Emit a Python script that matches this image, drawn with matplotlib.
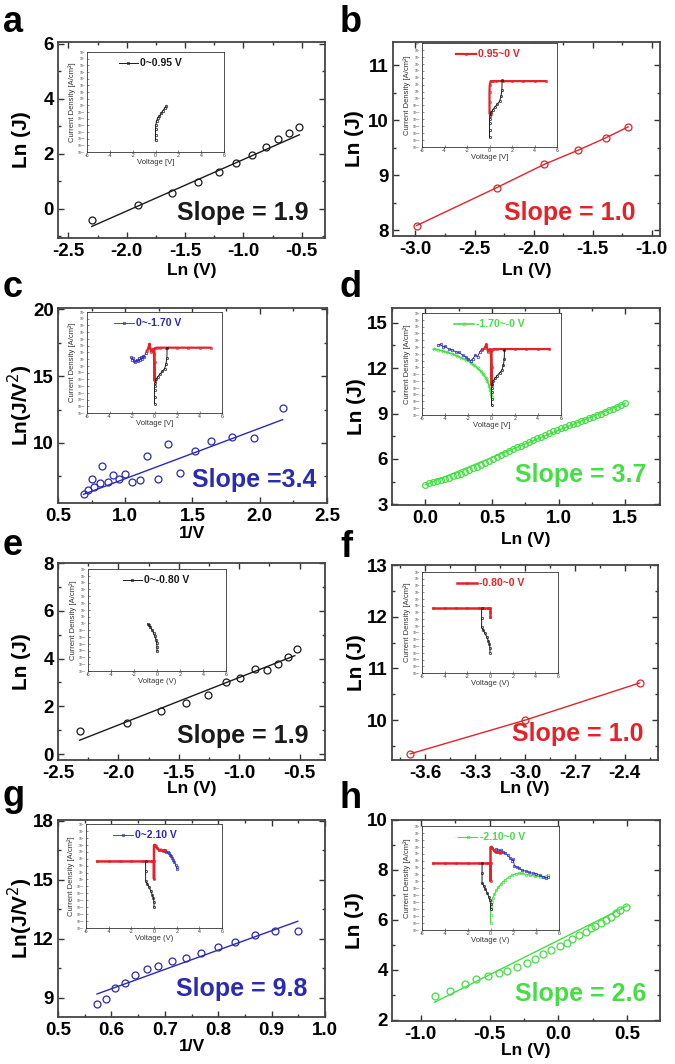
import numpy as np
import matplotlib
matplotlib.use('Agg')
import matplotlib.pyplot as plt
from matplotlib.ticker import AutoMinorLocator

plt.rcParams['font.family'] = ['Liberation Sans', 'DejaVu Sans']

BLACK = '#1a1a1a'
RED = '#e3222a'
BLUE = '#2a2ab2'
GREEN = '#45de45'

# ---- main panel data ----
a_lnV = [-2.30, -1.90, -1.61, -1.39, -1.21, -1.06, -0.93, -0.81, -0.70, -0.61, -0.52]
a_lnJ = [-0.40, 0.15, 0.59, 0.99, 1.32, 1.66, 1.94, 2.24, 2.53, 2.75, 2.99]
a_fit_x = [-2.30, -0.52]
a_fit_y = [-0.64, 2.69]

b_lnV = [-2.99, -2.31, -1.91, -1.62, -1.39, -1.20]
b_lnJ = [8.09, 8.78, 9.20, 9.46, 9.68, 9.88]

c_invV = [0.69, 0.72, 0.75, 0.77, 0.81, 0.83, 0.87, 0.91, 0.95, 1.00, 1.05,
          1.11, 1.16, 1.24, 1.32, 1.41, 1.52, 1.64, 1.79, 1.96, 2.17]
c_lnJV2 = [6.20, 6.45, 7.27, 6.70, 7.00, 8.26, 7.10, 7.57, 7.27, 7.64, 7.07,
           7.20, 9.00, 7.27, 9.95, 7.77, 9.38, 10.12, 10.42, 10.37, 12.60]
c_fit_x = [0.69, 2.17]
c_fit_y = [6.15, 11.74]

d_lnV = [0.00, 0.03, 0.06, 0.09, 0.12, 0.15, 0.18, 0.21, 0.24, 0.27, 0.30, 0.33, 0.36,
         0.39, 0.42, 0.45, 0.48, 0.51, 0.54, 0.57, 0.60, 0.63, 0.66, 0.69, 0.72, 0.75,
         0.78, 0.81, 0.84, 0.87, 0.90, 0.93, 0.96, 0.99, 1.02, 1.05, 1.08, 1.11, 1.14,
         1.17, 1.20, 1.23, 1.26, 1.29, 1.32, 1.35, 1.38, 1.41, 1.44, 1.47, 1.50]
d_lnJ = [4.30, 4.38, 4.45, 4.52, 4.60, 4.68, 4.76, 4.85, 4.93, 5.03, 5.14, 5.26, 5.38,
         5.50, 5.62, 5.75, 5.88, 6.00, 6.13, 6.26, 6.38, 6.51, 6.64, 6.76, 6.88, 7.00,
         7.12, 7.24, 7.36, 7.48, 7.60, 7.72, 7.83, 7.94, 8.04, 8.13, 8.22, 8.31, 8.40,
         8.50, 8.60, 8.69, 8.79, 8.89, 8.99, 9.10, 9.21, 9.33, 9.45, 9.58, 9.72]
d_fit_x = [0.00, 1.50]
d_fit_y = [4.30, 9.70]

e_lnV = [-2.32, -1.93, -1.65, -1.44, -1.26, -1.11, -0.99, -0.87, -0.77, -0.68, -0.60, -0.52]
e_lnJ = [0.95, 1.31, 1.80, 2.15, 2.49, 3.03, 3.17, 3.54, 3.51, 3.78, 4.05, 4.39]
e_fit_x = [-2.32, -0.54]
e_fit_y = [0.58, 4.12]

f_lnV = [-3.69, -3.00, -2.31]
f_lnJ = [9.35, 10.00, 10.72]

g_invV = [0.573, 0.589, 0.606, 0.626, 0.645, 0.666, 0.688, 0.713, 0.740, 0.768,
          0.800, 0.832, 0.869, 0.907, 0.949]
g_lnJV2 = [8.71, 8.93, 9.51, 9.78, 10.15, 10.46, 10.61, 10.87, 11.04, 11.31,
           11.60, 11.85, 12.22, 12.40, 12.40]
g_fit_x = [0.573, 0.949]
g_fit_y = [9.20, 12.90]

h_lnV = [-0.90, -0.79, -0.68, -0.60, -0.51, -0.43, -0.37, -0.30, -0.23, -0.17, -0.11,
         -0.05, 0.01, 0.06, 0.10, 0.15, 0.20, 0.24, 0.27, 0.31, 0.35, 0.38, 0.42, 0.45, 0.49]
h_lnJ = [2.96, 3.16, 3.43, 3.63, 3.76, 3.87, 3.97, 4.13, 4.27, 4.44, 4.63, 4.80, 4.97,
         5.07, 5.23, 5.40, 5.53, 5.67, 5.77, 5.87, 6.00, 6.13, 6.27, 6.40, 6.53]
h_fit_x = [-0.90, 0.50]
h_fit_y = [2.71, 6.56]

# ---- inset I-V data: voltage [V] and log10 of current density ----
blk_a_V = [0, 0, 0, 0.02, 0.1, 0.2, 0.35, 0.5, 0.65, 0.8, 0.95]
blk_a_J = [-5.25, -4.5, -3.6, -3.0, -2.3, -1.9, -1.6, -1.2, -0.8, -0.45, -0.1]

blk_pos_V = [0, 0, 0, 0, 0.05, 0.15, 0.3, 0.5, 0.7, 0.9, 1.02, 1.1, 1.12]
blk_pos_J = [-5.6, -4.6, -3.6, -3.0, -2.5, -2.0, -1.6, -1.2, -0.8, -0.4, 0.3, 1.2, 2.6]

red_b_V = [5.0, 4.0, 3.0, 2.0, 1.2, 0.6, 0.3, 0.1, 0.02, 0.0, 0.0, 0.0, 0.12]
red_b_J = [2.5, 2.5, 2.5, 2.5, 2.5, 2.5, 2.5, 2.5, 1.9, 1.0, -0.5, -2.2, -2.2]

red_c_V = [5.0, 4.0, 3.0, 2.0, 1.0, 0.5, 0.2, 0.0, 0.0, 0.0, -0.05, -0.15, -0.3, -0.45, -0.55, -0.7]
red_c_J = [2.7, 2.7, 2.7, 2.7, 2.7, 2.7, 2.7, 2.6, 0.5, -2.2, 1.8, 2.5, 2.1, 3.3, 2.6, 2.2]

blu_c_V = [-2.1, -2.0, -1.9, -1.8, -1.7, -1.6, -1.5, -1.4, -1.3, -1.2, -1.1, -1.0, -0.9, -0.8]
blu_c_J = [1.3, 0.9, 1.1, 0.7, 0.6, 0.9, 0.7, 1.1, 0.8, 1.3, 1.0, 1.5, 1.3, 1.9]

red_d_V = [5.0, 4.0, 3.0, 2.0, 1.0, 0.5, 0.2, 0.0, 0.0, 0.0, -0.05, -0.15, -0.3, -0.45, -0.6, -0.8]
red_d_J = [2.7, 2.7, 2.7, 2.7, 2.7, 2.7, 2.7, 2.6, 0.0, -2.6, 2.4, 2.7, 2.3, 3.4, 2.8, 2.6]

blu_d_V = [-4.6, -4.4, -4.2, -4.0, -3.7, -3.4, -3.1, -2.8, -2.5, -2.2, -2.0, -1.8,
           -1.6, -1.4, -1.2, -1.0, -0.85]
blu_d_J = [3.3, 3.4, 3.0, 3.1, 2.7, 2.6, 2.3, 2.2, 1.8, 1.5, 1.2, 1.0, 1.3, 1.8, 1.6, 2.3, 2.7]

grn_d_V = [-5.0, -4.6, -4.2, -3.8, -3.4, -3.0, -2.6, -2.2, -1.8, -1.5, -1.2, -0.9,
           -0.7, -0.5, -0.35, -0.2, -0.1, -0.03, 0.0]
grn_d_J = [2.7, 2.6, 2.4, 2.2, 2.0, 1.7, 1.4, 1.1, 0.7, 0.3, -0.1, -0.6,
           -1.0, -1.5, -2.0, -2.7, -3.3, -3.9, -4.3]

blk_e_V = [0, 0, -0.02, -0.08, -0.18, -0.3, -0.45, -0.6, -0.72, -0.8]
blk_e_J = [-4.1, -3.4, -2.9, -2.4, -1.9, -1.4, -0.9, -0.5, -0.2, -0.1]

red_f_V = [-5.0, -4.0, -3.0, -2.0, -1.0, -0.5, -0.2, 0.0, 0.0, 0.0]
red_f_J = [2.6, 2.6, 2.6, 2.6, 2.6, 2.6, 2.6, 2.6, 2.0, 1.3]

blk_neg_V = [-0.74, -0.74, -0.74, -0.6, -0.45, -0.3, -0.15, -0.05, 0.0, 0.0]
blk_neg_J = [2.6, 1.2, -0.2, -0.6, -1.1, -1.6, -2.2, -2.7, -3.3, -4.0]

red_g_V = [-5.0, -4.0, -3.0, -2.0, -1.0, -0.3, 0.0, 0.0, 0.0, 0.05, 0.15, 0.3, 0.45, 0.6, 0.8, 1.0]
red_g_J = [2.6, 2.6, 2.6, 2.6, 2.6, 2.6, 2.6, 0.1, 4.9, 5.0, 4.8, 4.5, 4.2, 4.3, 4.1, 4.2]

blu_g_V = [0.9, 1.0, 1.1, 1.2, 1.3, 1.4, 1.5, 1.6, 1.7, 1.8, 1.9, 2.0, 2.05]
blu_g_J = [4.2, 4.1, 4.0, 3.9, 3.8, 3.6, 3.4, 3.1, 2.8, 2.5, 2.1, 1.8, 1.5]

blu_h_V = [0.5, 0.7, 0.9, 1.1, 1.3, 1.5, 1.7, 1.9, 2.0, 2.1, 2.3, 2.5, 2.8, 3.1,
           3.4, 3.7, 4.0, 4.3, 4.6, 4.9, 5.0]
blu_h_J = [4.7, 4.5, 4.5, 4.3, 4.1, 3.8, 3.4, 3.0, 3.2, 2.2, 2.1, 1.9, 1.6, 1.5,
           1.3, 1.2, 1.1, 0.9, 0.7, 0.5, 0.6]

grn_h_V = [0.0, 0.0, 0.02, 0.05, 0.1, 0.2, 0.35, 0.5, 0.7, 0.9, 1.1, 1.3, 1.6, 1.9,
           2.2, 2.5, 2.8, 3.1, 3.5, 3.9, 4.3, 4.7, 5.0]
grn_h_J = [-6.0, -4.8, -4.0, -3.5, -3.0, -2.4, -1.8, -1.3, -0.8, -0.4, -0.05, 0.25,
           0.6, 0.9, 1.1, 1.2, 1.15, 1.0, 0.9, 0.75, 0.7, 0.7, 0.9]

W, H = 675, 1064
fig = plt.figure(figsize=(W / 100, H / 100), dpi=100)


def px_axes(l, t, r, b):
    return fig.add_axes([l / W, 1 - b / H, (r - l) / W, (b - t) / H])


def bold_ticks(ax):
    for lab in ax.get_xticklabels() + ax.get_yticklabels():
        lab.set_fontweight('bold')


def main_panel(rect, x, y, fx, fy, color, xlim, ylim, xticks, yticks,
               xlabel, ylabel, slope, spos, xlab_px, ylab_px, ms=5.0):
    ax = px_axes(*rect)
    ax.plot(fx, fy, color=color, lw=1.0, zorder=2)
    ax.plot(x, y, 'o', mfc='none', mec=color, ms=ms, mew=0.9, zorder=3)
    ax.set_xlim(*xlim)
    ax.set_ylim(*ylim)
    ax.set_xticks(xticks)
    ax.set_xticklabels(['{:.1f}'.format(v) for v in xticks])
    ax.set_yticks(yticks)
    ax.set_yticklabels([str(v) for v in yticks])
    ax.xaxis.set_minor_locator(AutoMinorLocator(2))
    ax.yaxis.set_minor_locator(AutoMinorLocator(2))
    ax.tick_params(which='both', direction='in', top=True, right=True,
                   labelsize=13.5, width=1.0, colors='#333333', labelcolor='black')
    ax.tick_params(which='major', length=4, pad=3)
    ax.tick_params(which='minor', length=2)
    ax.tick_params(axis='x', pad=3.6)
    for s in ax.spines.values():
        s.set_color('#444444')
        s.set_linewidth(1.3)
    bold_ticks(ax)
    hpx = rect[3] - rect[1]
    wpx = rect[2] - rect[0]
    # x label placed by its baseline, y label by its centre
    ax.set_xlabel(xlabel, fontsize=12.5, fontweight='bold', va='baseline')
    ax.xaxis.set_label_coords(0.5, -(xlab_px - rect[3]) / hpx)
    ax.set_ylabel(ylabel, fontsize=15, fontweight='bold', va='center')
    ax.yaxis.set_label_coords((ylab_px - rect[0]) / wpx, 0.5)
    ax.text(spos[0], spos[1], slope, transform=ax.transAxes, ha='right', va='center',
            fontsize=18, fontweight='bold', color=color)
    return ax


def inset(rect, curves, leg_label, leg_x, xlabel):
    ax = px_axes(*rect)
    ax.set_yscale('log')
    handles = []
    for V, J, c, ms, lw in curves:
        ln, = ax.plot(V, 10.0 ** np.array(J), color=c, marker='o', mfc='none',
                      ms=ms, mew=0.5, lw=lw)
        handles.append(ln)
    ax.set_xlim(-6, 6)
    ax.set_ylim(1e-7, 1e8)
    ax.set_xticks([-6, -4, -2, 0, 2, 4, 6])
    ax.set_xticklabels(['-6', '-4', '-2', '0', '2', '4', '6'])
    ax.set_yticks([10.0 ** k for k in range(-7, 9)])
    ax.set_yticklabels(['10$^{%d}$' % k for k in range(-7, 9)])
    ax.minorticks_off()
    ax.tick_params(direction='in', length=1.5, width=0.4, pad=1, labelsize=3.8,
                   colors='#333333', labelcolor='#333333')
    ax.tick_params(axis='y', labelsize=2.3)
    for s in ax.spines.values():
        s.set_linewidth(0.6)
        s.set_color('#333333')
    ax.set_xlabel(xlabel, fontsize=5.5, fontweight='normal', labelpad=0.5, color='#333333')
    ax.set_ylabel('Current Density [A/cm\u00b2]', fontsize=5.5, fontweight='normal',
                  labelpad=0.8, color='#333333')
    c0 = curves[0][2]
    ax.legend(handles=[handles[0]], labels=[leg_label], loc='upper left',
              bbox_to_anchor=(leg_x, 0.98), frameon=False, handlelength=1.9,
              handletextpad=0.2, borderaxespad=0,
              prop={'size': 7.5, 'weight': 'bold'}, labelcolor=c0)
    return ax


# panel a
main_panel((58, 42, 325, 238), a_lnV, a_lnJ, a_fit_x, a_fit_y, BLACK,
           (-2.59, -0.3), (-1.06, 6.06), [-2.5, -2.0, -1.5, -1.0, -0.5], [0, 2, 4, 6],
           'Ln (V)', 'Ln (J)', 'Slope = 1.9', (0.94, 0.13), 275, 22)
inset((87, 52, 224, 152), [(blk_a_V, blk_a_J, BLACK, 1.8, 0.7)], '0~0.95 V', 0.2, 'Voltage [V]')

# panel b
main_panel((393, 42, 660, 236), b_lnV, b_lnJ, b_lnV, b_lnJ, RED,
           (-3.19, -0.93), (7.9, 11.42), [-3.0, -2.5, -2.0, -1.5, -1.0], [8, 9, 10, 11],
           'Ln (V)', 'Ln (J)', 'Slope = 1.0', (0.91, 0.12), 275, 355)
inset((422, 43, 557, 147), [(red_b_V, red_b_J, RED, 1.6, 1.6),
                            (blk_pos_V, blk_pos_J, BLACK, 1.6, 0.7)],
      '0.95~0 V', 0.22, 'Voltage [V]')

# panel c
main_panel((58, 308, 327, 503), c_invV, c_lnJV2, c_fit_x, c_fit_y, BLUE,
           (0.52, 2.5), (5.5, 20.1), [0.5, 1.0, 1.5, 2.0, 2.5], [10, 15, 20],
           '1/V', 'Ln(J/V$^2$)', 'Slope =3.4', (0.96, 0.12), 538, 20)
inset((87, 312, 222, 413), [(blu_c_V, blu_c_J, BLUE, 1.8, 0.6),
                            (red_c_V, red_c_J, RED, 1.6, 1.6),
                            (blk_pos_V, blk_pos_J, BLACK, 1.6, 0.7)],
      '0~-1.70 V', 0.17, 'Voltage [V]')

# panel d
main_panel((392, 308, 660, 505), d_lnV, d_lnJ, d_fit_x, d_fit_y, GREEN,
           (-0.25, 1.76), (2.96, 15.97), [0.0, 0.5, 1.0, 1.5], [3, 6, 9, 12, 15],
           'Ln (V)', 'Ln (J)', 'Slope = 3.7', (0.95, 0.15), 544, 356, ms=4.2)
inset((422, 313, 561, 415), [(grn_d_V, grn_d_J, GREEN, 2.2, 1.2),
                             (blu_d_V, blu_d_J, BLUE, 1.8, 0.6),
                             (red_d_V, red_d_J, RED, 1.6, 1.6),
                             (blk_pos_V, blk_pos_J, BLACK, 1.6, 0.7)],
      '-1.70~-0 V', 0.2, 'Voltage [V]')

# panel e
main_panel((58, 563, 325, 760), e_lnV, e_lnJ, e_fit_x, e_fit_y, BLACK,
           (-2.5, -0.29), (-0.25, 8.0), [-2.5, -2.0, -1.5, -1.0, -0.5], [0, 2, 4, 6, 8],
           'Ln (V)', 'Ln (J)', 'Slope = 1.9', (0.94, 0.12), 793, 22)
inset((88, 569, 226, 671), [(blk_e_V, blk_e_J, BLACK, 1.8, 0.7)], '0~-0.80 V', 0.22,
      'Voltage (V)')

# panel f
main_panel((392, 565, 658, 760), f_lnV, f_lnJ, f_lnV, f_lnJ, RED,
           (-3.8, -2.2), (9.23, 13.0), [-3.6, -3.3, -3.0, -2.7, -2.4], [10, 11, 12, 13],
           'Ln (V)', 'Ln (J)', 'Slope = 1.0', (0.945, 0.133), 793, 356)
inset((422, 572, 558, 673), [(red_f_V, red_f_J, RED, 1.6, 1.8),
                             (blk_neg_V, blk_neg_J, BLACK, 1.6, 0.7)],
      '-0.80~0 V', 0.23, 'Voltage (V)')

# panel g
main_panel((58, 820, 325, 1017), g_invV, g_lnJV2, g_fit_x, g_fit_y, BLUE,
           (0.5, 1.0), (8.03, 18.05), [0.5, 0.6, 0.7, 0.8, 0.9, 1.0], [9, 12, 15, 18],
           '1/V', 'Ln(J/V$^2$)', 'Slope = 9.8', (0.935, 0.144), 1051, 20)
inset((86, 824, 222, 928), [(blu_g_V, blu_g_J, BLUE, 1.8, 0.6),
                            (red_g_V, red_g_J, RED, 1.6, 1.8),
                            (blk_neg_V, blk_neg_J, BLACK, 1.6, 0.7)],
      '0~2.10 V', 0.17, 'Voltage (V)')

# panel h
main_panel((392, 820, 660, 1021), h_lnV, h_lnJ, h_fit_x, h_fit_y, GREEN,
           (-1.21, 0.74), (1.96, 10.0), [-1.0, -0.5, 0.0, 0.5], [2, 4, 6, 8, 10],
           'Ln (V)', 'Ln (J)', 'Slope = 2.6', (0.95, 0.133), 1055, 355)
inset((422, 826, 559, 930), [(grn_h_V, grn_h_J, GREEN, 1.8, 0.8),
                             (blu_h_V, blu_h_J, BLUE, 1.8, 0.6),
                             (red_g_V, red_g_J, RED, 1.6, 1.8),
                             (blk_neg_V, blk_neg_J, BLACK, 1.6, 0.7)],
      '-2.10~0 V', 0.23, 'Voltage (V)')

# panel letters
for letter, xp, yp in [('a', 3, 32), ('b', 340, 32), ('c', 3, 297), ('d', 340, 297),
                       ('e', 3, 555), ('f', 340, 557), ('g', 3, 806), ('h', 340, 808)]:
    fig.text(xp / W, 1 - yp / H, letter, fontsize=26, fontweight='bold', va='baseline')

fig.savefig('out.png', dpi=100)
